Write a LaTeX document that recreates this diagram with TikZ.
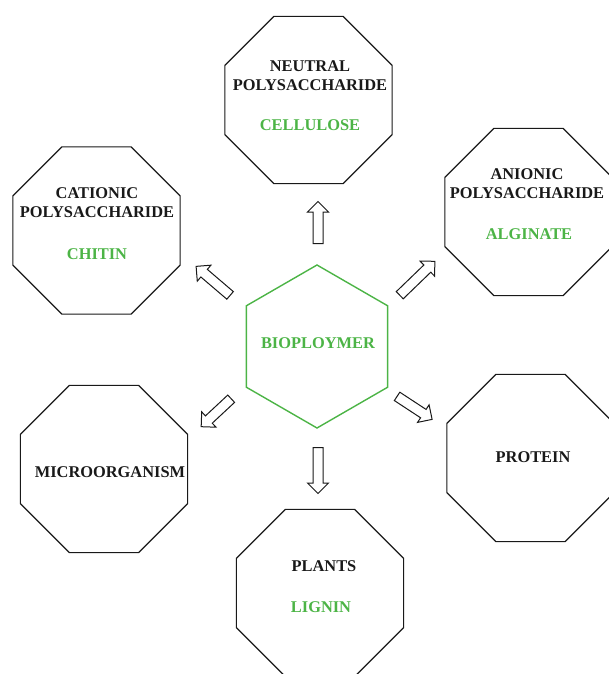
\documentclass[tikz,border=0pt]{standalone}
\usepackage{fontspec}
\setmainfont{Liberation Serif}
\usetikzlibrary{shapes.geometric,shapes.arrows}
\definecolor{leaf}{RGB}{76,180,70}
\definecolor{ink}{RGB}{25,25,25}
\tikzset{
  octa/.style={draw=ink, line width=1.2pt, regular polygon, regular polygon sides=8,
    minimum size=181pt, inner sep=0pt, outer sep=0pt},
  hexa/.style={draw=leaf, line width=1.4pt, regular polygon, regular polygon sides=6,
    shape border rotate=90, minimum size=163pt, inner sep=0pt, outer sep=0pt},
  lbl/.style={font=\bfseries\fontsize{16.4}{19}\selectfont, text=ink, align=center,
    inner sep=0pt},
  glbl/.style={lbl, text=leaf},
  blockarrow/.style={draw=ink, line width=1pt, single arrow, single arrow head extend=5.5pt,
    inner sep=4.5pt, single arrow tip angle=90, minimum width=20pt}
}
\begin{document}
\begin{tikzpicture}[x=1pt,y=-1pt]
\useasboundingbox (0,0) rectangle (609,674);
\clip (0,0) rectangle (609,674);

% centre hexagon
\node[hexa] (bio) at (317,346.5) {};
\node[glbl] (bioT) at (318,343) {BIOPLOYMER};

% surrounding octagons
\node[octa] (neutral) at (308.5,100) {};
\node[octa] (cationic) at (96.5,230.5) {};
\node[octa] (anionic) at (528.5,212) {};
\node[octa] (micro) at (104,469) {};
\node[octa] (protein) at (530.5,458) {};
\node[octa] (plants) at (320,593) {};

% octagon texts
\node[lbl] (neutralT) at (310,75.5) {NEUTRAL\\POLYSACCHARIDE};
\node[glbl] (celluloseT) at (310,125) {CELLULOSE};
\node[lbl] (cationicT) at (97,203) {CATIONIC\\POLYSACCHARIDE};
\node[glbl] (chitinT) at (97,254) {CHITIN};
\node[lbl] (anionicT) at (527,183.5) {ANIONIC\\POLYSACCHARIDE};
\node[glbl] (alginateT) at (529,234) {ALGINATE};
\node[lbl] (microT) at (110,472) {MICROORGANISM};
\node[lbl] (proteinT) at (533,457) {PROTEIN};
\node[lbl] (plantsT) at (324,566) {PLANTS};
\node[glbl] (ligninT) at (321,607) {LIGNIN};

% hollow block arrows pointing outwards
\node[blockarrow, rotate=90, minimum height=42pt] (toNeutral) at (318,225) {};
\node[blockarrow, rotate=-90, minimum height=46pt] (toPlants) at (318,468) {};
\node[blockarrow, rotate=139.5, minimum height=44.7pt] (toCationic) at (215,282.5) {};
\node[blockarrow, rotate=223, minimum height=41pt] (toMicro) at (218,411) {};
\node[blockarrow, rotate=44, minimum height=48.8pt] (toAnionic) at (415.5,280) {};
\node[blockarrow, rotate=-33.3, minimum height=41.9pt] (toProtein) at (412.5,406.5) {};
\end{tikzpicture}
\end{document}
